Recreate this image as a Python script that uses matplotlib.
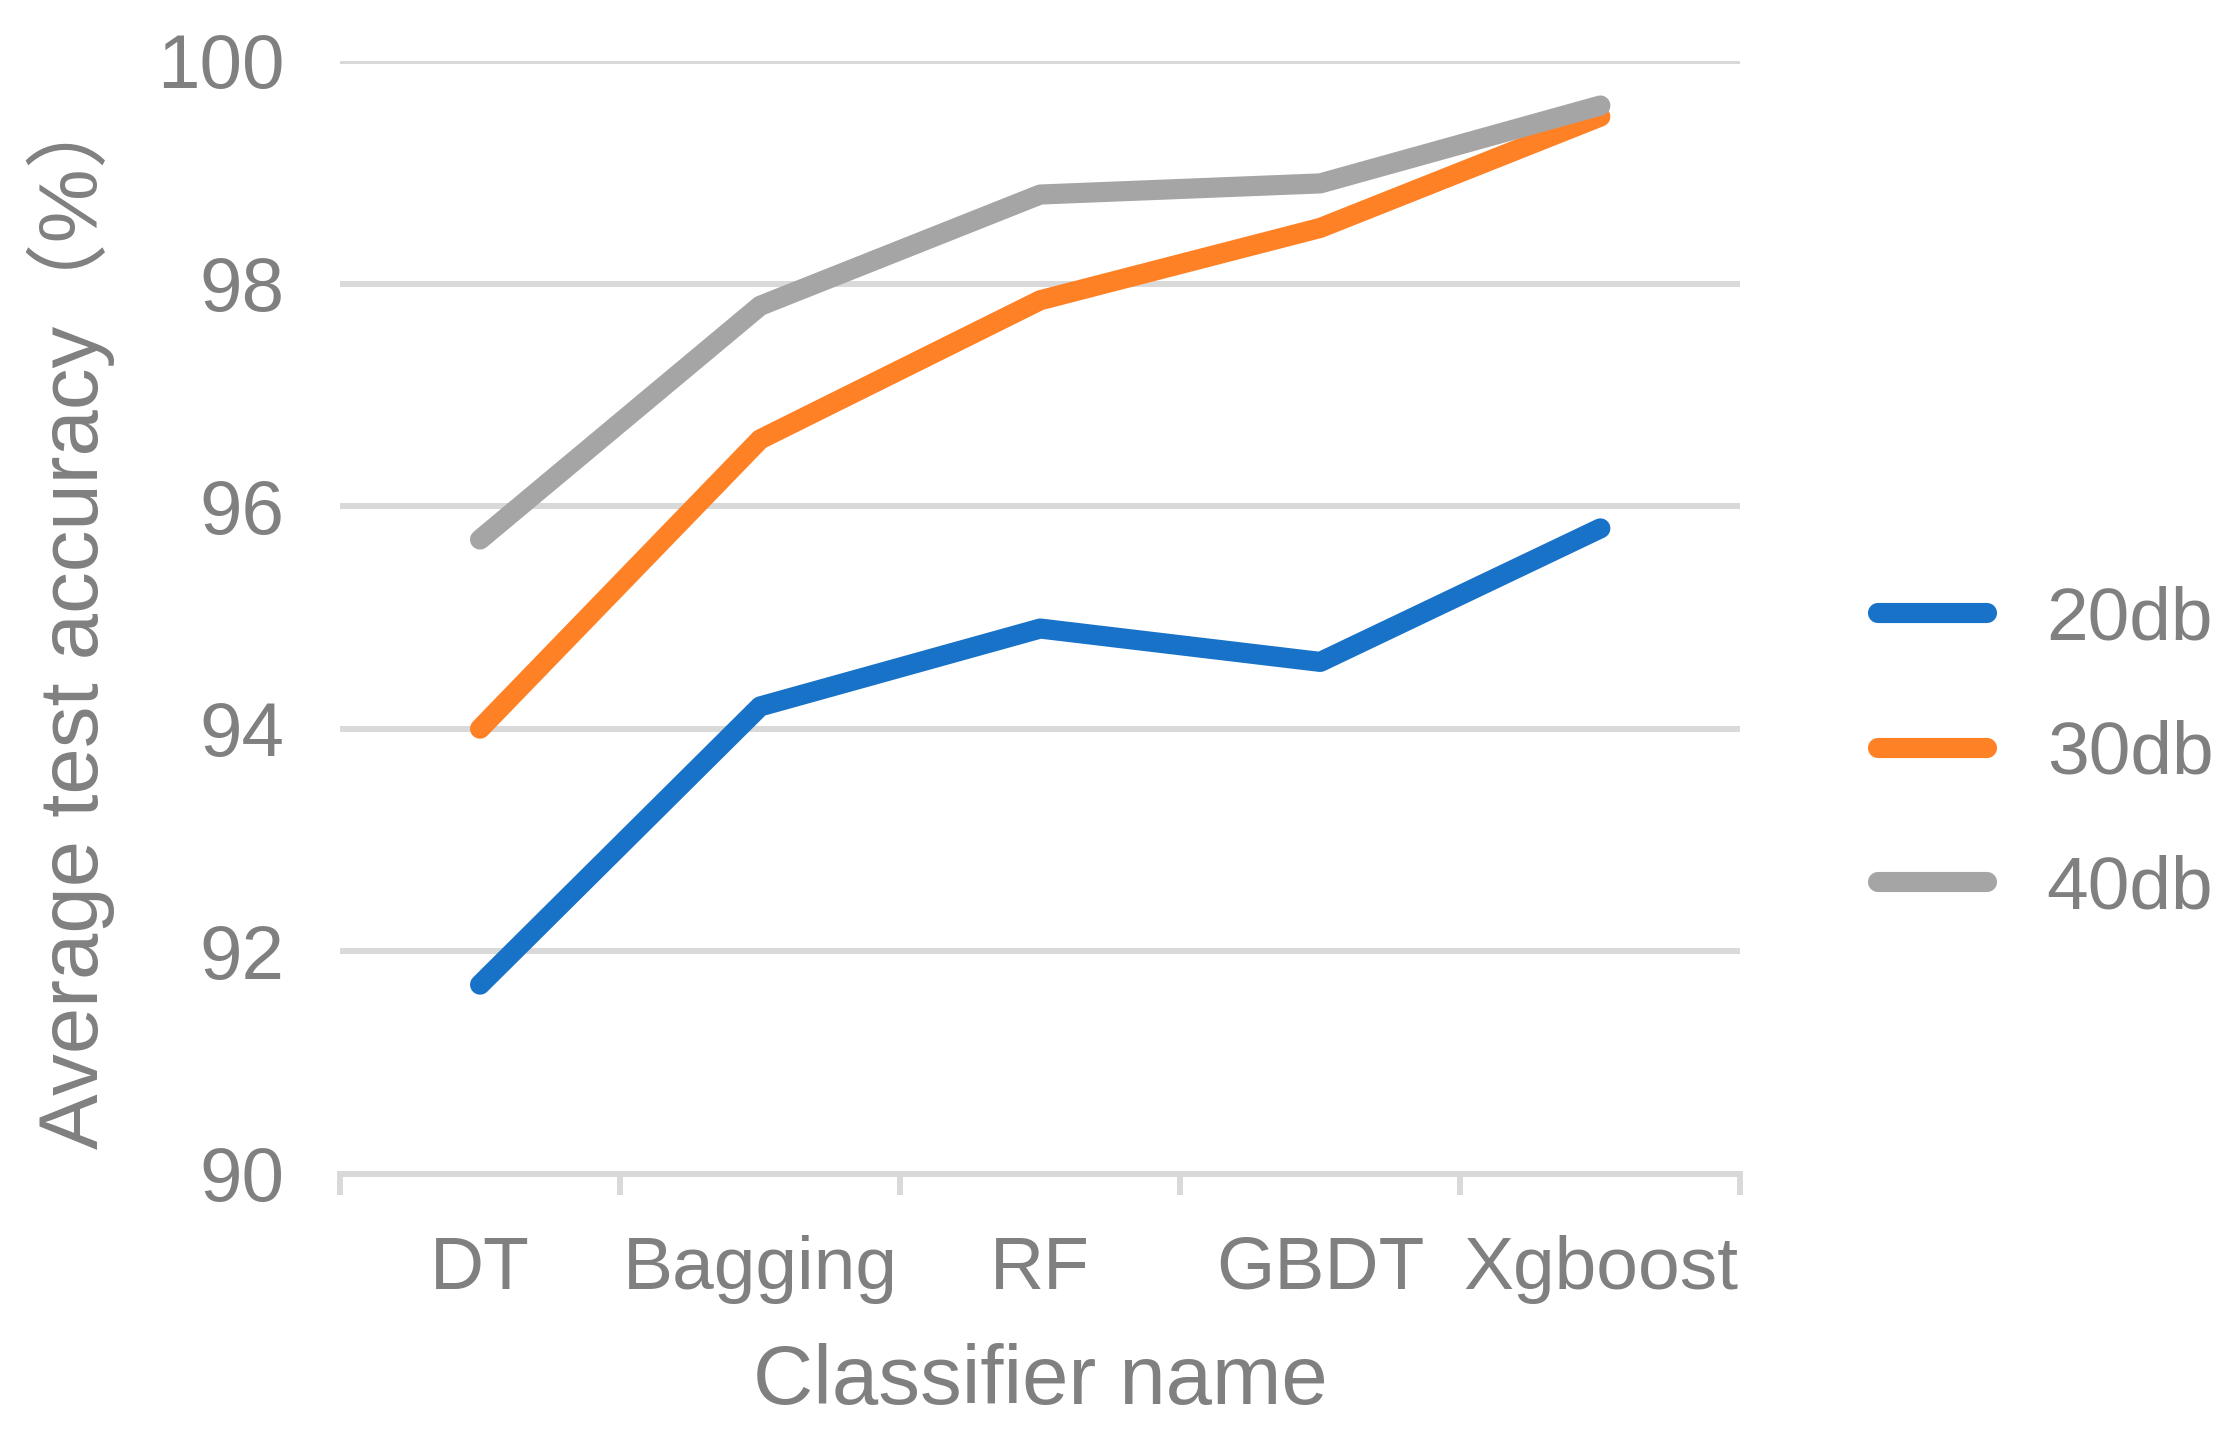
import numpy as np
import matplotlib
matplotlib.use("Agg")
import matplotlib.pyplot as plt

plt.rcParams["font.family"] = ["Liberation Sans", "Noto Sans CJK SC", "DejaVu Sans"]

# --- data ---
classifiers = ["DT", "Bagging", "RF", "GBDT", "Xgboost"]
acc_20db = [91.7, 94.2, 94.9, 94.6, 95.8]
acc_30db = [94.0, 96.6, 97.85, 98.5, 99.5]
acc_40db = [95.7, 97.8, 98.8, 98.9, 99.6]
series_labels = ["20db", "30db", "40db"]
y_ticks = [90, 92, 94, 96, 98, 100]

colors = ["#1872C8", "#FF8126", "#A5A5A5"]
text_gray = "#808080"
grid_gray = "#D9D9D9"

fig = plt.figure(figsize=(22.37, 14.35), dpi=100)
ax = fig.add_axes([0.152, 0.182, 0.626, 0.7755])

x = np.arange(len(classifiers))
for vals, lab, col in zip([acc_20db, acc_30db, acc_40db], series_labels, colors):
    ax.plot(x, vals, color=col, lw=14.5, label=lab,
            solid_capstyle="round", solid_joinstyle="round", zorder=3)

ax.set_ylim(90, 100)
ax.set_yticks(y_ticks)
ax.set_xlim(-0.5, len(classifiers) - 0.5)
ax.set_xticks(x)
ax.set_xticklabels(classifiers)
ax.set_xticks(np.arange(len(classifiers) + 1) - 0.5, minor=True)

ax.grid(axis="y", color=grid_gray, lw=4.3, zorder=0)
for s in ["top", "right", "left"]:
    ax.spines[s].set_visible(False)
ax.spines["bottom"].set_color(grid_gray)
ax.spines["bottom"].set_linewidth(4.3)

ax.tick_params(axis="y", length=0, pad=40, labelsize=55, labelcolor=text_gray)
ax.tick_params(axis="x", which="major", length=0, pad=44, labelsize=54, labelcolor=text_gray)
ax.tick_params(axis="x", which="minor", length=15, width=4.3, color=grid_gray)

ax.set_xlabel("Classifier name", fontsize=60, color=text_gray, labelpad=28)
ax.set_ylabel("Average test accuracy（%）", fontsize=60, color=text_gray, labelpad=30)

leg = ax.legend(loc="center left", bbox_to_anchor=(1.05, 0.377), frameon=False,
                fontsize=54, handlelength=1.45, handletextpad=0.8, labelspacing=0.87,
                labelcolor=text_gray)

fig.savefig("out.png", dpi=100)
